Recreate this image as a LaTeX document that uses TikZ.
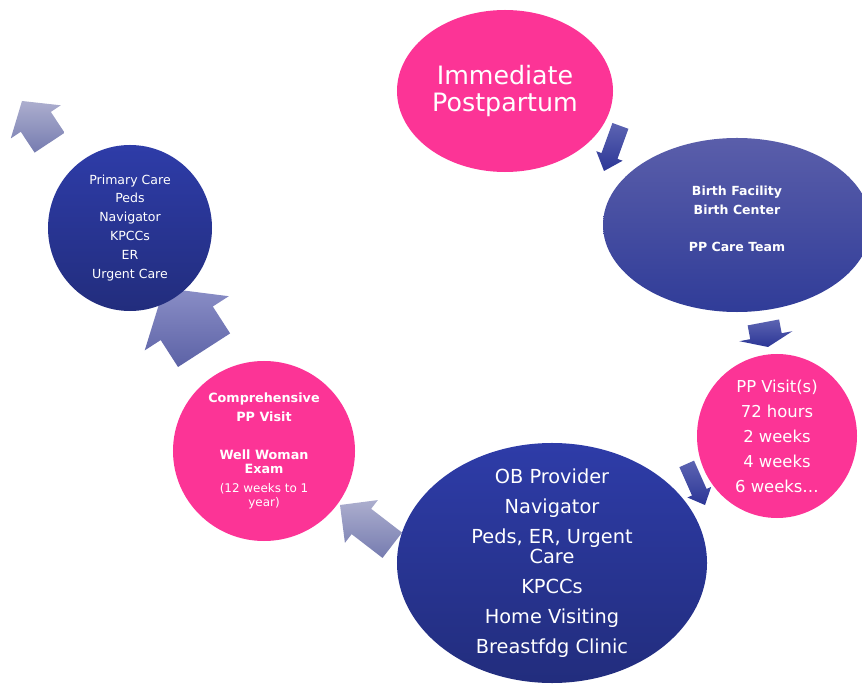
\documentclass[tikz,border=0pt]{standalone}
\usepackage{fontspec}
\setmainfont{DejaVu Sans}
\usetikzlibrary{shapes.geometric}

\definecolor{bubblepink}{RGB}{252,52,150}
\definecolor{navytop}{RGB}{46,60,168}
\definecolor{navybot}{RGB}{34,45,125}
\definecolor{facilitytop}{RGB}{90,94,170}
\definecolor{facilitybot}{RGB}{48,60,152}
\definecolor{lavtop}{RGB}{172,174,206}
\definecolor{lavbot}{RGB}{118,124,176}
\definecolor{deeplavtop}{RGB}{138,142,198}
\definecolor{deeplavbot}{RGB}{92,98,166}
\definecolor{steptop}{RGB}{92,100,178}
\definecolor{stepbot}{RGB}{44,54,150}

\tikzset{
  bubble/.style={ellipse,inner sep=0pt},
  pinkbubble/.style={bubble,fill=bubblepink},
  bluebubble/.style={bubble,top color=navytop,bottom color=navybot},
  facilitybubble/.style={bubble,top color=facilitytop,bottom color=facilitybot},
  bubbletext/.style={text=white,align=center,inner sep=0pt},
  lavarrow/.style={top color=lavtop,bottom color=lavbot},
  deeplavarrow/.style={top color=deeplavtop,bottom color=deeplavbot},
  steparrow/.style={top color=steptop,bottom color=stepbot}
}

% block arrow: style, tip, angle, length, head width, shaft width, head length
\newcommand{\blockarrow}[7]{%
  \path[#1,shift={#2},rotate=#3] (0,0) -- (-#7,{#5/2}) -- (-#7,{#6/2}) -- (-#4,{#6/2})
    -- (-#4,{-#6/2}) -- (-#7,{-#6/2}) -- (-#7,{-#5/2}) -- cycle;}

\begin{document}
\begin{tikzpicture}[x=0.03cm,y=-0.03cm]
    \useasboundingbox (0,0) rectangle (862,684);

    % arrows first, the bubbles lie on top of them
    \blockarrow{lavarrow}{(22,101)}{123.5}{50}{60}{36}{25}
    \blockarrow{deeplavarrow}{(164,288)}{122.8}{74}{100}{62}{42}
    \blockarrow{lavarrow}{(340,505)}{142.4}{66}{54}{32}{27}
    \blockarrow{steparrow}{(604,171)}{-110}{48}{28}{17}{16}
    \blockarrow{steparrow}{(768,347)}{-79.3}{25}{54}{32}{11}
    \blockarrow{steparrow}{(705,505)}{-66}{45}{26}{16}{14}

    \node[pinkbubble,minimum width=6.48cm,minimum height=4.86cm] (imm) at (505,91) {};
    \node[facilitybubble,minimum width=8.04cm,minimum height=5.22cm] (birth) at (737,225) {};
    \node[pinkbubble,minimum width=4.8cm,minimum height=4.92cm] (ppvisit) at (777,436) {};
    \node[bluebubble,minimum width=9.3cm,minimum height=7.2cm] (ob) at (552,563) {};
    \node[pinkbubble,minimum width=5.46cm,minimum height=5.4cm] (comp) at (264,451) {};
    \node[bluebubble,minimum width=4.92cm,minimum height=4.98cm] (primary) at (130,228) {};

    \node[bubbletext,font=\fontsize{21.6}{23}\selectfont] (immtext) at (imm.center) {Immediate\\Postpartum};
    \node[bubbletext,font=\bfseries\fontsize{10.7}{15.8}\selectfont] (birthtext) at ([yshift=0.18cm]birth.center)
        {Birth Facility\\Birth Center\\[15.8pt]PP Care Team};
    \node[bubbletext,font=\fontsize{14}{21.3}\selectfont] (ppvisittext) at (ppvisit.center)
        {PP Visit(s)\\72 hours\\2 weeks\\4 weeks\\6 weeks\dots};
    \node[bubbletext,font=\fontsize{16.5}{17}\selectfont] (obtext) at (ob.center)
        {OB Provider\\[8.6pt]Navigator\\[8.6pt]Peds, ER, Urgent\\Care\\[8.6pt]KPCCs\\[8.6pt]Home Visiting\\[8.6pt]Breastfdg Clinic};
    \node[bubbletext,font=\fontsize{10.2}{12}\selectfont] (comptext) at (comp.center)
        {\fontsize{10.9}{12}\selectfont\textbf{Comprehensive}\\[4.2pt]\fontsize{10.9}{12}\selectfont\textbf{PP Visit}\\[19.8pt]%
         \fontsize{10.9}{12}\selectfont\textbf{Well Woman}\\\fontsize{10.9}{12}\selectfont\textbf{Exam}\\[4.2pt](12 weeks to 1\\year)};
    \node[bubbletext,font=\fontsize{10.7}{16.2}\selectfont] (primarytext) at (primary.center)
        {Primary Care\\Peds\\Navigator\\KPCCs\\ER\\Urgent Care};
\end{tikzpicture}
\end{document}
